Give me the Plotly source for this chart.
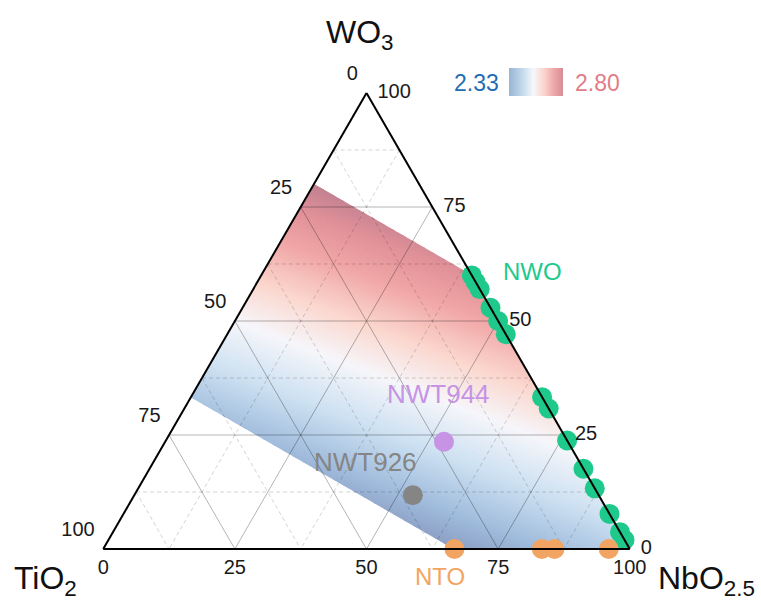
import plotly.graph_objects as go
from plotly.colors import sample_colorscale

# ---------------- data ----------------
tick_values = [0, 25, 50, 75, 100]
grid_major = [25, 50, 75]
grid_minor = [12.5, 37.5, 62.5, 87.5]

# NWO series: WO3 content (mol %) on the WO3-NbO2.5 join (TiO2 = 0)
nwo_wo3 = [60.0, 58.5, 57.0, 52.9, 50.0, 47.1, 33.3, 30.8, 23.8, 17.6, 13.3, 7.7, 3.7, 2.0]
# NTO series: NbO2.5 content on the TiO2-NbO2.5 join (WO3 = 0)
nto_nb = [66.7, 83.3, 85.7, 96.0]
# single compositions (WO3, TiO2, NbO2.5)
nwt944 = (23.5, 23.5, 52.9)
nwt926 = (11.8, 35.3, 52.9)

# band: O/M ratio limits; colour property values at end members
om_low, om_high = 7 / 3, 2.80
oxygen_per_cation = {"WO3": 3.0, "TiO2": 2.0, "NbO2.5": 2.5}
prop_end = {"WO3": 2.967, "TiO2": 2.133, "NbO2.5": 2.436}
cbar_min, cbar_max = 2.33, 2.80

# ---------------- styles ----------------
FONT = "Arial, 'Liberation Sans', sans-serif"
GREEN = "#1fc98c"
ORANGE = "#f2a563"
PURPLE = "#c793e4"
GREY = "#858585"
band_scale = [
    [0.00, "rgb(136,154,193)"],
    [0.12, "rgb(158,186,219)"],
    [0.30, "rgb(205,225,242)"],
    [0.47, "rgb(246,246,250)"],
    [0.62, "rgb(251,214,205)"],
    [0.78, "rgb(240,164,164)"],
    [0.90, "rgb(224,144,152)"],
    [1.00, "rgb(192,128,143)"],
]
legend_scale = [
    [0.00, "rgb(150,180,212)"],
    [0.25, "rgb(196,218,236)"],
    [0.45, "rgb(246,248,251)"],
    [0.65, "rgb(251,212,204)"],
    [0.85, "rgb(236,164,166)"],
    [1.00, "rgb(214,142,150)"],
]


def clip(poly, f):
    out = []
    n = len(poly)
    for i in range(n):
        p, q = poly[i], poly[(i + 1) % n]
        fp, fq = f(p), f(q)
        if fp >= 0:
            out.append(p)
        if (fp >= 0) != (fq >= 0):
            t = fp / (fp - fq)
            out.append(tuple(p[k] + t * (q[k] - p[k]) for k in range(3)))
    return out


def om(p):
    a, b, c = p
    return (oxygen_per_cation["WO3"] * a + oxygen_per_cation["TiO2"] * b
            + oxygen_per_cation["NbO2.5"] * c) / 100.0


def prop(p):
    a, b, c = p
    return (prop_end["WO3"] * a + prop_end["TiO2"] * b + prop_end["NbO2.5"] * c) / 100.0


fig = go.Figure()

# ---- gradient band (strips of constant colour) ----
tri = [(100.0, 0.0, 0.0), (0.0, 100.0, 0.0), (0.0, 0.0, 100.0)]
band = clip(tri, lambda p: om(p) - om_low)
band = clip(band, lambda p: om_high - om(p))
vals = [prop(p) for p in band]
vmin, vmax = min(vals), max(vals)
N = 160
for i in range(N):
    lo = vmin + (vmax - vmin) * i / N
    hi = vmin + (vmax - vmin) * (i + 1) / N
    poly = clip(band, lambda p, lo=lo: prop(p) - lo)
    poly = clip(poly, lambda p, hi=hi: hi - prop(p))
    if len(poly) < 3:
        continue
    mid = 0.5 * (lo + hi)
    frac = min(max((mid - cbar_min) / (cbar_max - cbar_min), 0), 1)
    col = sample_colorscale(band_scale, [frac])[0]
    pts = poly + [poly[0]]
    fig.add_trace(go.Scatterternary(
        a=[p[0] for p in pts], b=[p[1] for p in pts], c=[p[2] for p in pts],
        mode="lines", fill="toself", fillcolor=col,
        line=dict(color=col, width=0.8), hoverinfo="skip", showlegend=False))


# ---- grid lines ----
def grid_trace(values, color, dash, width):
    A, B, C = [], [], []
    for g in values:
        A += [g, g, None]; B += [100 - g, 0, None]; C += [0, 100 - g, None]
        A += [100 - g, 0, None]; B += [g, g, None]; C += [0, 100 - g, None]
        A += [100 - g, 0, None]; B += [0, 100 - g, None]; C += [g, g, None]
    return go.Scatterternary(a=A, b=B, c=C, mode="lines",
                             line=dict(color=color, width=width, dash=dash),
                             hoverinfo="skip", showlegend=False, connectgaps=False)


fig.add_trace(grid_trace(grid_minor, "rgba(0,0,0,0.22)", "4px,3px", 0.8))
fig.add_trace(grid_trace(grid_major, "rgba(0,0,0,0.33)", "solid", 0.9))

# ---- data points ----
MS = 20
fig.add_trace(go.Scatterternary(
    a=nwo_wo3, b=[0] * len(nwo_wo3), c=[100 - v for v in nwo_wo3],
    mode="markers", marker=dict(size=MS, color=GREEN, line=dict(width=0)),
    cliponaxis=False, showlegend=False, name="NWO"))
fig.add_trace(go.Scatterternary(
    a=[0] * len(nto_nb), b=[100 - v for v in nto_nb], c=nto_nb,
    mode="markers", marker=dict(size=MS, color=ORANGE, line=dict(width=0)),
    cliponaxis=False, showlegend=False, name="NTO"))
fig.add_trace(go.Scatterternary(
    a=[nwt944[0]], b=[nwt944[1]], c=[nwt944[2]],
    mode="markers", marker=dict(size=MS, color=PURPLE, line=dict(width=0)),
    cliponaxis=False, showlegend=False, name="NWT944"))
fig.add_trace(go.Scatterternary(
    a=[nwt926[0]], b=[nwt926[1]], c=[nwt926[2]],
    mode="markers", marker=dict(size=MS, color=GREY, line=dict(width=0)),
    cliponaxis=False, showlegend=False, name="NWT926"))

# ---- tick labels ----
tick_font = dict(family=FONT, size=20, color="#1a1a1a")
clear = "rgba(0,0,0,0)"
txt = [str(v) for v in tick_values]
fig.add_trace(go.Scatterternary(  # bottom: NbO2.5
    a=[0] * 5, b=[100 - v for v in tick_values], c=tick_values,
    mode="markers+text", text=txt, textposition="bottom center",
    marker=dict(size=14, color=clear), textfont=tick_font,
    cliponaxis=False, hoverinfo="skip", showlegend=False))
fig.add_trace(go.Scatterternary(  # left: TiO2
    a=[100 - v for v in tick_values], b=tick_values, c=[0] * 5,
    mode="markers+text", text=txt, textposition="top left",
    marker=dict(size=12, color=clear), textfont=tick_font,
    cliponaxis=False, hoverinfo="skip", showlegend=False))
fig.add_trace(go.Scatterternary(  # right: WO3
    a=tick_values, b=[0] * 5, c=[100 - v for v in tick_values],
    mode="markers+text", text=txt, textposition="middle right",
    marker=dict(size=16, color=clear), textfont=tick_font,
    cliponaxis=False, hoverinfo="skip", showlegend=False))

# ---- colour bar ----
fig.add_trace(go.Scatterternary(
    a=[50], b=[25], c=[25], mode="markers",
    marker=dict(size=0.1, color=[cbar_min], cmin=cbar_min, cmax=cbar_max,
                colorscale=legend_scale, showscale=True,
                colorbar=dict(orientation="h", x=(536 - 103) / 527, y=(549 - 82) / 456,
                              xanchor="center", yanchor="middle",
                              len=74, lenmode="pixels", xpad=10, ypad=0,
                              thickness=28, outlinewidth=0, showticklabels=False,
                              ticks="")),
    hoverinfo="skip", showlegend=False))

axis_common = dict(showgrid=False, showticklabels=False, ticks="", linecolor="black",
                   linewidth=2, showline=True, title=dict(text=""), layer="above traces")

fig.update_layout(
    width=761, height=601,
    margin=dict(l=103, r=131, t=93, b=52),
    paper_bgcolor="white",
    font=dict(family=FONT),
    ternary=dict(sum=100, bgcolor="white",
                 aaxis=axis_common, baxis=axis_common, caxis=axis_common),
    showlegend=False,
)


def ann(text, x, y, size, color):
    fig.add_annotation(text=text, x=x, y=y, xref="paper", yref="paper",
                       showarrow=False, xanchor="center", yanchor="middle",
                       font=dict(family=FONT, size=size, color=color))


px2x = lambda px: (px - 103) / 527
py2y = lambda py: (549 - py) / 456

ann("WO<sub>3</sub>", px2x(360), py2y(35), 32, "#111")
ann("TiO<sub>2</sub>", px2x(45), py2y(580), 32, "#111")
ann("NbO<sub>2.5</sub>", px2x(706), py2y(580), 32, "#111")
ann("2.33", px2x(476), py2y(83), 23, "#1f6eb4")
ann("2.80", px2x(597), py2y(83), 23, "#e07d87")
ann("NWO", px2x(532), py2y(271), 24, GREEN)
ann("NWT944", px2x(438), py2y(394), 26, PURPLE)
ann("NWT926", px2x(365), py2y(462), 26, GREY)
ann("NTO", px2x(440), py2y(576), 24, ORANGE)

fig.write_html("out.html")
